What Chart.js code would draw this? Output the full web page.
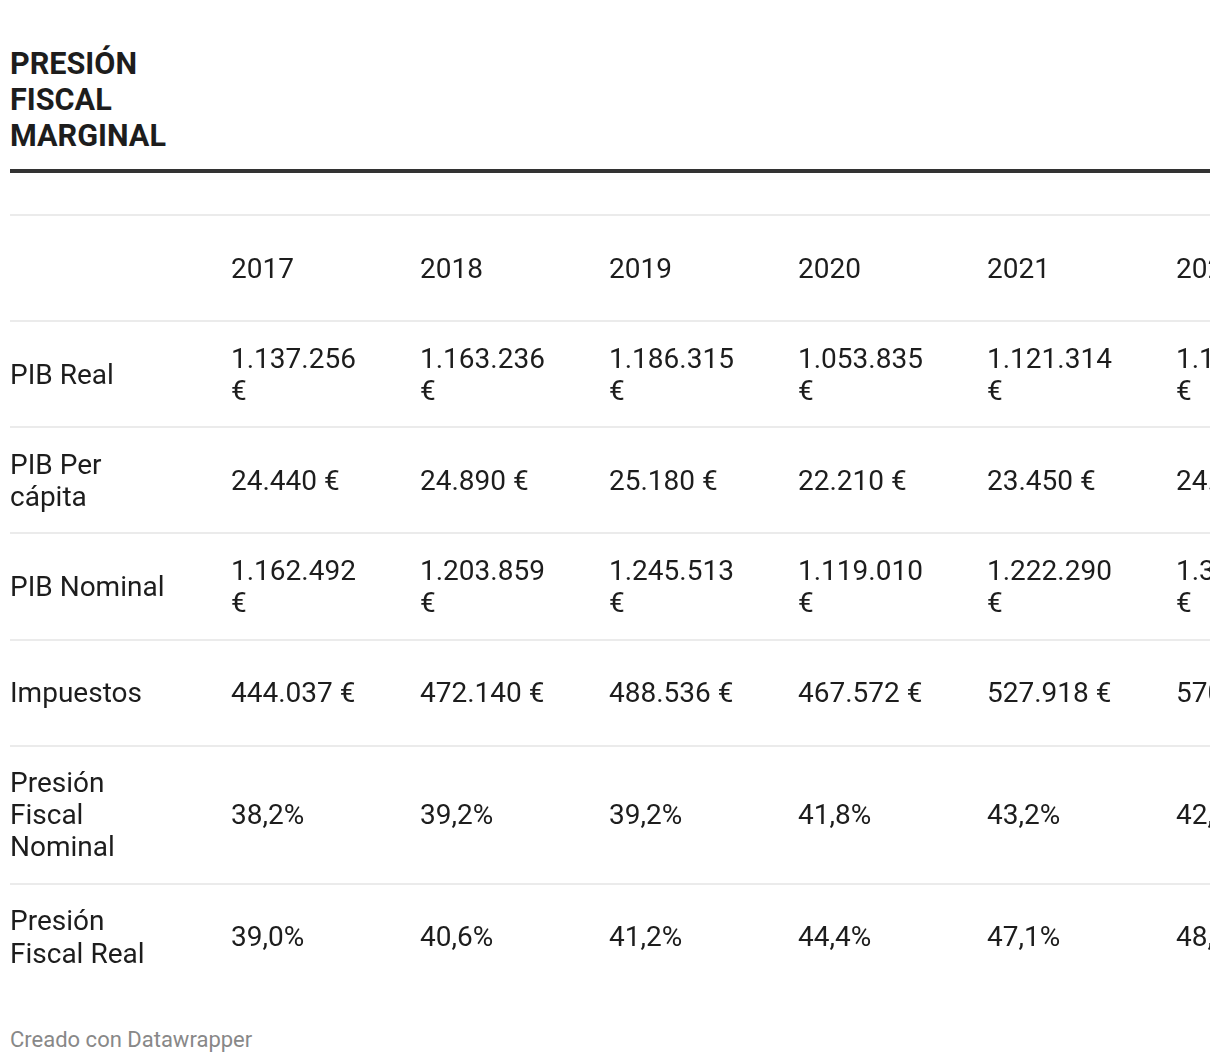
<!DOCTYPE html>
<html>
<head>
<meta charset="utf-8">
<script src="https://cdn.jsdelivr.net/npm/chart.js@4"></script>
<style>
  body { margin: 0; background: #fff; font-family: Roboto, sans-serif; color: #1d1d1d; }
  #title { position: absolute; left: 10px; top: 46px; font-weight: 700; font-size: 30.6px; line-height: 36px; }
  #rule { position: absolute; left: 10px; top: 169px; width: 1200px; height: 4px; background: #333; }
  #wrap { position: absolute; left: 10px; top: 200px; width: 1200px; height: 800px; }
  #footer { position: absolute; left: 10px; top: 1027px; font-size: 22px; color: #888; }
</style>
</head>
<body>
<div id="title">PRESIÓN<br>FISCAL<br>MARGINAL</div>
<div id="rule"></div>
<div id="wrap"><canvas id="table"></canvas></div>
<div id="footer">Creado con Datawrapper</div>
<script>
// Table values
const years = [2017, 2018, 2019, 2020, 2021, 2022];
const rowLabels = ['PIB Real', 'PIB Per cápita', 'PIB Nominal', 'Impuestos', 'Presión Fiscal Nominal', 'Presión Fiscal Real'];
const pibReal = [1137256, 1163236, 1186315, 1053835, 1121314, 1185437];
const pibPerCapita = [24440, 24890, 25180, 22210, 23450, 24930];
const pibNominal = [1162492, 1203859, 1245513, 1119010, 1222290, 1346377];
const impuestos = [444037, 472140, 488536, 467572, 527918, 570812];
const presionNominal = [38.2, 39.2, 39.2, 41.8, 43.2, 42.4];
const presionReal = [39.0, 40.6, 41.2, 44.4, 47.1, 48.1];

const FONT = '28px Roboto';
const LABEL_WIDTH = 165;
const CELL_WIDTH = 135;

function euro(v) {
    return String(v).replace(/\B(?=(\d{3})+(?!\d))/g, '.') + ' €';
}
function pct(v) {
    return v.toFixed(1).replace('.', ',') + '%';
}

// word wrap using canvas metrics
const measureCtx = document.createElement('canvas').getContext('2d');
measureCtx.font = FONT;
function wrap(text, maxWidth) {
    const words = text.split(' ');
    const lines = [];
    let line = '';
    words.forEach(w => {
        const test = line ? line + ' ' + w : w;
        if (line && measureCtx.measureText(test).width > maxWidth) {
            lines.push(line);
            line = w;
        } else {
            line = test;
        }
    });
    if (line) lines.push(line);
    return lines;
}

const rows = [
    { label: '', cells: years.map(String) },
    { label: rowLabels[0], cells: pibReal.map(euro) },
    { label: rowLabels[1], cells: pibPerCapita.map(euro) },
    { label: rowLabels[2], cells: pibNominal.map(euro) },
    { label: rowLabels[3], cells: impuestos.map(euro) },
    { label: rowLabels[4], cells: presionNominal.map(pct) },
    { label: rowLabels[5], cells: presionReal.map(pct) }
];

// row extents in line units
const boundaries = [0];
rows.forEach(r => {
    r.labelLines = r.label ? wrap(r.label, LABEL_WIDTH) : [];
    r.cellLines = r.cells.map(c => wrap(c, CELL_WIDTH));
    const n = Math.max(r.labelLines.length, ...r.cellLines.map(l => l.length), 2);
    const top = boundaries[boundaries.length - 1];
    const h = n + 1.3125;
    r.center = top + h / 2;
    boundaries.push(top + h);
});
const total = boundaries[boundaries.length - 1];

const tableText = {
    id: 'tableText',
    afterDatasetsDraw(chart) {
        const ctx = chart.ctx;
        const yScale = chart.scales.y;
        ctx.save();
        ctx.font = FONT;
        ctx.fillStyle = '#1d1d1d';
        ctx.textAlign = 'left';
        ctx.textBaseline = 'middle';
        rows.forEach((r, ri) => {
            const meta = chart.getDatasetMeta(ri);
            const drawLines = (lines, x) => {
                lines.forEach((t, k) => {
                    const y = yScale.getPixelForValue(r.center + k - (lines.length - 1) / 2 + 0.08);
                    ctx.fillText(t, x, y);
                });
            };
            drawLines(r.labelLines, chart.chartArea.left);
            meta.data.forEach((pt, i) => drawLines(r.cellLines[i], pt.x));
        });
        ctx.restore();
    }
};

new Chart(document.getElementById('table'), {
    type: 'scatter',
    data: {
        datasets: rows.map(r => ({
            data: years.map(yr => ({ x: yr, y: r.center })),
            pointRadius: 0
        }))
    },
    options: {
        responsive: true,
        maintainAspectRatio: false,
        animation: false,
        events: [],
        layout: { padding: { top: 15, bottom: 10, left: 0, right: 0 } },
        plugins: { legend: { display: false }, tooltip: { enabled: false } },
        scales: {
            x: {
                type: 'linear',
                display: false,
                min: 2017 - 221 / 189,
                max: 2017 - 221 / 189 + 1200 / 189
            },
            y: {
                type: 'linear',
                reverse: true,
                min: 0,
                max: total,
                afterBuildTicks(scale) {
                    scale.ticks = boundaries.slice(0, -1).map(v => ({ value: v }));
                },
                ticks: { display: false },
                border: { display: false },
                grid: { color: '#ebebeb', lineWidth: 2, drawTicks: false }
            }
        }
    },
    plugins: [tableText]
});
</script>
</body>
</html>
